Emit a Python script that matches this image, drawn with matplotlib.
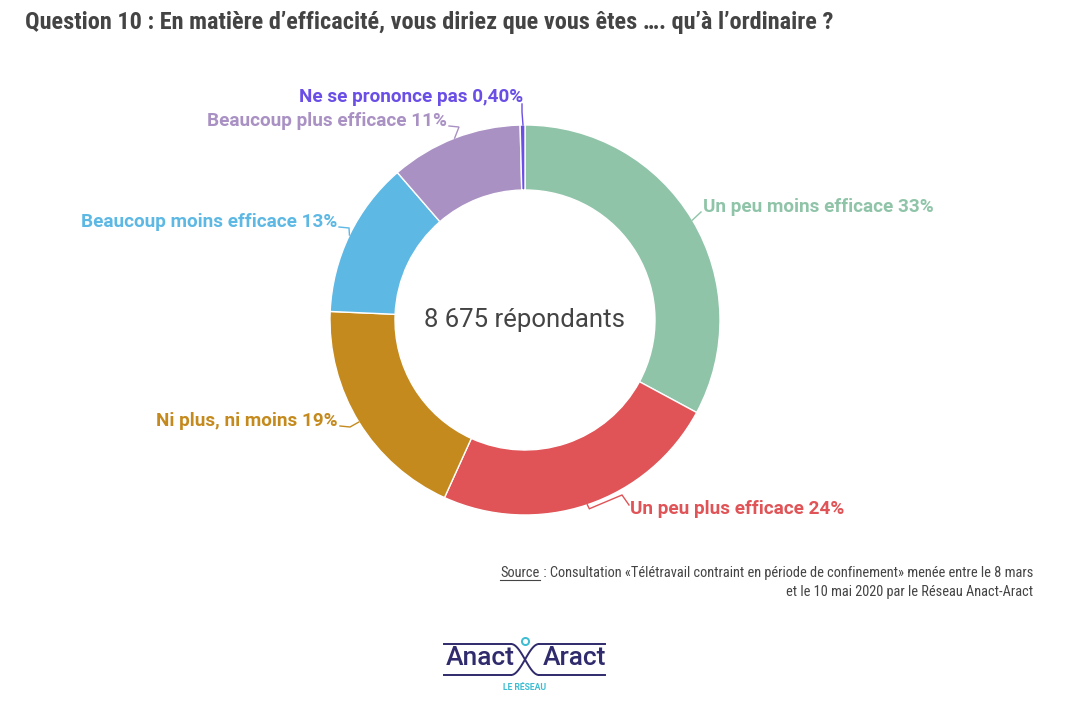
import numpy as np
import matplotlib.pyplot as plt
from matplotlib import font_manager

# données
labels = ["Un peu moins efficace", "Un peu plus efficace", "Ni plus, ni moins",
          "Beaucoup moins efficace", "Beaucoup plus efficace", "Ne se prononce pas"]
values = [33, 24, 19, 13, 11, 0.4]
value_txt = ["33%", "24%", "19%", "13%", "11%", "0,40%"]
colors = ["#8fc4a8", "#e05356", "#c48a1e", "#5db8e4", "#a991c4", "#6a4ee6"]

names = {f.name for f in font_manager.fontManager.ttflist}
cond = "Roboto Condensed" if "Roboto Condensed" in names else "Roboto"

W, H = 1076, 728
fig = plt.figure(figsize=(W / 100, H / 100), dpi=100)
ax = fig.add_axes([0, 0, 1, 1])
ax.axis("off")


def Y(y):
    return H - y


cx, cy, R = 525, Y(320), 195
wedges, _ = ax.pie(values, radius=R, center=(cx, cy), startangle=90,
                   counterclock=False, colors=colors,
                   wedgeprops=dict(width=65, edgecolor="white", linewidth=1))
ax.set_xlim(0, W)
ax.set_ylim(0, H)
ax.set_aspect("equal")

# positions des étiquettes (px) et coude de la ligne de rappel
label_pos = [(703, 207, "left"), (630, 509, "left"), (338, 421, "right"),
             (337, 222, "right"), (447, 121, "right"), (523, 97, "right")]

for w, lab, vt, c, (lx, ly, ha) in zip(wedges, labels, value_txt, colors, label_pos):
    mid = np.deg2rad((w.theta1 + w.theta2) / 2)
    px, py = cx + R * np.cos(mid), cy + R * np.sin(mid)
    ax.text(lx, Y(ly), f"{lab} {vt}", ha=ha, va="center", color=c,
            fontsize=13.6, fontweight="bold", family="Roboto")
    if lab == "Ne se prononce pas":
        xs_, ys_ = [cx - 3, cx - 3, cx - 2], [Y(104), Y(112), cy + R]
    elif lab == "Un peu plus efficace":
        xs_ = [px, px + 2, lx - 8, lx - 1]
        ys_ = [py, py - 4, Y(ly - 14), Y(ly - 4)]
    elif ha == "left":
        xs_, ys_ = [lx - 2, px], [Y(ly + 5), py]
    else:
        xs_ = [lx + 2, lx + 12, px]
        ys_ = [Y(ly + 5), Y(ly + 6), py]
    ax.plot(xs_, ys_, color=c, lw=1, solid_joinstyle="miter")

ax.text(cx, cy, "8 675 répondants", ha="center", va="center",
        fontsize=18.5, color="#444444", family="Roboto")

fig.text(25 / W, 1 - 23 / H,
         "Question 10 : En matière d’efficacité, vous diriez que vous êtes …. qu’à l’ordinaire ?",
         ha="left", va="center", fontsize=17.5, fontweight="bold",
         color="#444444", family=cond)

# source
t1 = ax.text(1033, Y(573), " : Consultation «Télétravail contraint en période de confinement» menée entre le 8 mars",
             ha="right", va="center", fontsize=10.4, color="#444444", family=cond)
ax.text(1033, Y(592), "et le 10 mai 2020 par le Réseau Anact-Aract",
        ha="right", va="center", fontsize=10.4, color="#444444", family=cond)
fig.canvas.draw()
r = fig.canvas.get_renderer()
bb = t1.get_window_extent(r)
t0 = ax.text(bb.x0, Y(573), "Source", ha="right", va="center",
             fontsize=10.4, color="#444444", family=cond)
bb0 = t0.get_window_extent(r)
ax.plot([bb0.x0, bb0.x1], [bb0.y0, bb0.y0], color="#444444", lw=0.8)

# logo
navy = "#2f2b6c"
cyan = "#3dbcd2"
ax.text(480, Y(658), "Anact", ha="center", va="center", fontsize=19,
        color=navy, family="Roboto", fontweight="medium")
ax.text(575, Y(658), "Aract", ha="center", va="center", fontsize=19,
        color=navy, family="Roboto", fontweight="medium")
s = np.linspace(0, 1, 50)
sig = (1 - np.cos(np.pi * s)) / 2
xs = 511 + 28 * s
ax.plot([444, 511], [Y(644), Y(644)], color=navy, lw=1.4)
ax.plot([444, 511], [Y(675), Y(675)], color=navy, lw=1.4)
ax.plot([539, 605], [Y(644), Y(644)], color=navy, lw=1.4)
ax.plot([539, 605], [Y(675), Y(675)], color=navy, lw=1.4)
ax.plot(xs, Y(644 + 31 * sig), color=navy, lw=1.4)
ax.plot(xs, Y(675 - 31 * sig), color=navy, lw=1.4)
ax.scatter([525], [Y(641)], s=26, facecolor="white", edgecolor=cyan, lw=1.4, zorder=5)
ax.text(525, Y(688), "LE RÉSEAU", ha="center", va="center", fontsize=6.2,
        color=cyan, family="Roboto", fontweight="bold")

fig.savefig("out.png", dpi=100)
